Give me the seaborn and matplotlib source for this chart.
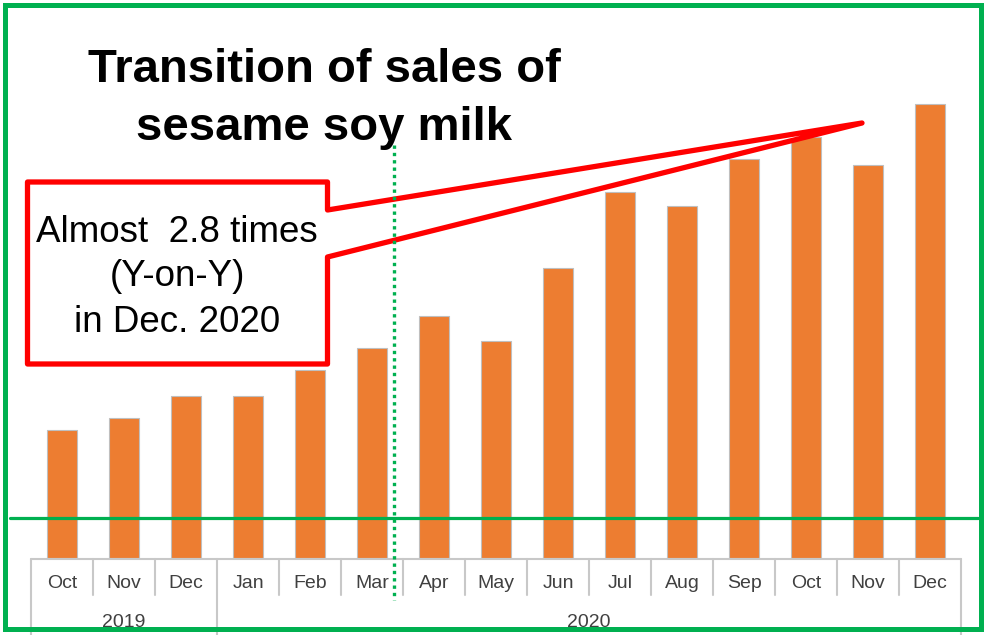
import matplotlib
matplotlib.use('Agg')
import matplotlib.pyplot as plt
from matplotlib.patches import Polygon, Rectangle
import pandas as pd
import seaborn as sns

# Monthly sales (relative units)
periods = ['2019-10', '2019-11', '2019-12', '2020-01', '2020-02', '2020-03', '2020-04',
           '2020-05', '2020-06', '2020-07', '2020-08', '2020-09', '2020-10', '2020-11', '2020-12']
months = ['Oct', 'Nov', 'Dec', 'Jan', 'Feb', 'Mar', 'Apr', 'May', 'Jun',
          'Jul', 'Aug', 'Sep', 'Oct', 'Nov', 'Dec']
sales = [128, 140, 162, 162, 188, 210, 242, 217, 290, 366, 352, 399, 421, 393, 454]
years = ['2019', '2020']
year_centers = [1, 8.5]

sns.set_style('white')
plt.rcParams['font.family'] = ['Liberation Sans', 'DejaVu Sans']

orange = '#ED7D31'
green = '#00B050'
red = '#FF0000'
grid_gray = '#C8C8C8'

W, H = 988, 635
fig = plt.figure(figsize=(W / 100, H / 100), dpi=100)

# bar axes: 1 y-unit = 1 pixel, baseline at y=557.5 px
base = 557.5
ax = fig.add_axes([31 / W, (H - base) / H, 930 / W, 500 / H])
df = pd.DataFrame({'period': periods, 'sales': sales})
sns.barplot(data=df, x='period', y='sales', color=orange, saturation=1,
            width=0.49, edgecolor='#BFBFBF', linewidth=0.8, ax=ax)
ax.set_xlim(-0.5, 14.5)
ax.set_ylim(0, 500)
ax.set_xlabel('')
ax.set_ylabel('')
ax.set_yticks([])
ax.set_xticks(range(len(months)))
ax.set_xticklabels(months, fontsize=14, color='#404040')
ax.tick_params(axis='x', length=0, pad=12.5)
sns.despine(ax=ax, left=True, bottom=True)

# multi-level category table under the bars
ax.plot([-0.5, 14.5], [-1, -1], color=grid_gray, lw=1.5, clip_on=False)
for i in range(len(months) - 1):
    if i == 2:
        continue
    ax.plot([i + 0.5, i + 0.5], [-1, -37.5], color=grid_gray, lw=1.5, clip_on=False)
for xs in [-0.5, 2.5, 14.5]:
    ax.plot([xs, xs], [-1, -90], color=grid_gray, lw=1.5, clip_on=False)
for lab, xc in zip(years, year_centers):
    ax.text(xc, base - 627, lab, ha='center', va='baseline', fontsize=14,
            color='#404040', clip_on=False)

# overlay in figure pixels for the drawn annotations
ov = fig.add_axes([0, 0, 1, 1], zorder=5)
ov.set_xlim(0, W)
ov.set_ylim(H, 0)
ov.axis('off')
ov.patch.set_alpha(0)

ov.text(324, 82, 'Transition of sales of', ha='center', va='baseline',
        fontsize=34, fontweight='bold', color='black')
ov.text(324, 140, 'sesame soy milk', ha='center', va='baseline',
        fontsize=34, fontweight='bold', color='black')

# green guide lines
ov.plot([10, 978], [517.5, 517.5], color=green, lw=2.3)
ov.plot([394, 394], [145, 600], color=green, lw=2.4, linestyle=(0, (1, 1.2)))

# callout
call = Polygon([(27.5, 182), (327.5, 182), (327.5, 210), (862, 123), (327.5, 257),
                (327.5, 364), (27.5, 364)], closed=True, facecolor='white',
               edgecolor=red, lw=3.8, joinstyle='round')
ov.add_patch(call)
for txt, yb in [('Almost  2.8 times', 242), ('(Y-on-Y)', 286), ('in Dec. 2020', 332)]:
    ov.text(177, yb, txt, ha='center', va='baseline', fontsize=26.5, color='black')

# figure frame
ov.add_patch(Rectangle((4.5, 4.5), 976, 624, fill=False, edgecolor=green, lw=3.6))

fig.savefig('out.png', dpi=100)
